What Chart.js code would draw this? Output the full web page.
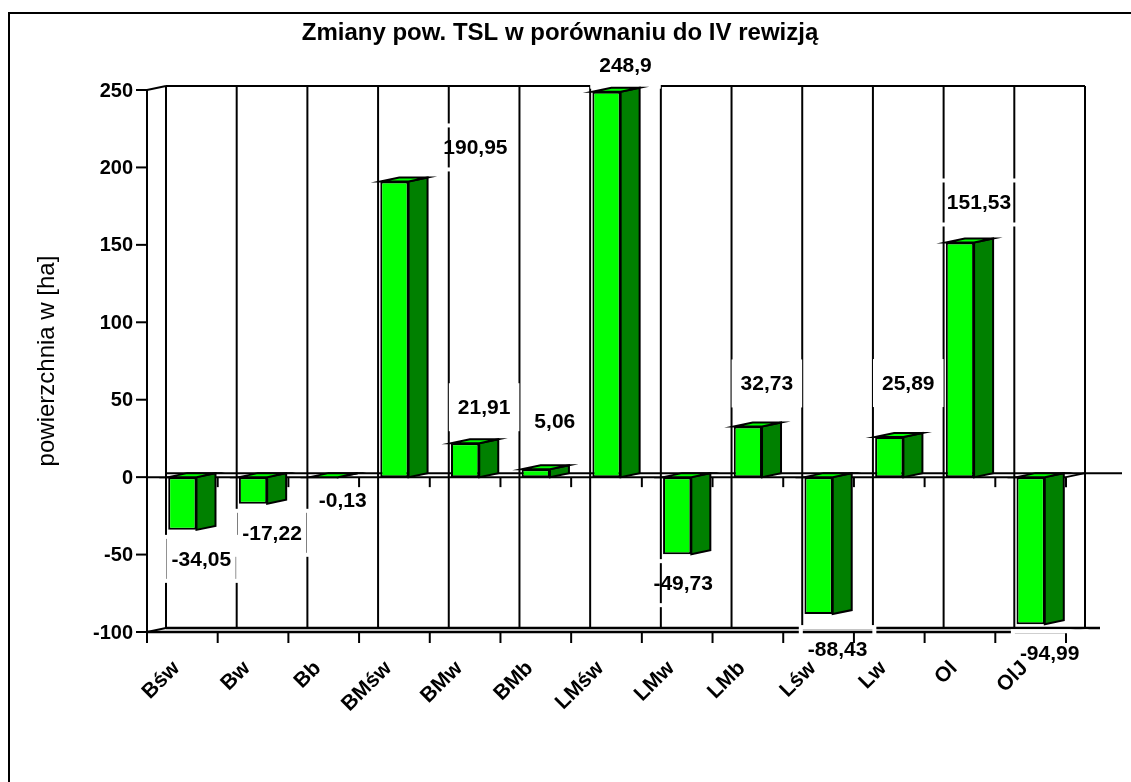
<!DOCTYPE html>
<html lang="pl">
<head>
<meta charset="UTF-8">
<title>Zmiany pow. TSL w porównaniu do IV rewizją</title>
<script src="https://cdn.jsdelivr.net/npm/chart.js@4.4.1/dist/chart.umd.min.js"></script>
<style>
  html, body { margin: 0; padding: 0; background: #fff; }
  .wrap { position: relative; width: 1131px; height: 782px; }
</style>
</head>
<body>
<div class="wrap"><canvas id="chart"></canvas></div>
<script>
// data
const categories = ['Bśw', 'Bw', 'Bb', 'BMśw', 'BMw', 'BMb', 'LMśw', 'LMw', 'LMb', 'Lśw', 'Lw', 'Ol', 'OlJ'];
const values = [-34.05, -17.22, -0.13, 190.95, 21.91, 5.06, 248.9, -49.73, 32.73, -88.43, 25.89, 151.53, -94.99];
const valueLabels = ['-34,05', '-17,22', '-0,13', '190,95', '21,91', '5,06', '248,9', '-49,73', '32,73', '-88,43', '25,89', '151,53', '-94,99'];
const yTicks = [250, 200, 150, 100, 50, 0, -50, -100];
const chartTitle = 'Zmiany pow. TSL w porównaniu do IV rewizją';
const yTitle = 'powierzchnia w [ha]';

const DX = 19, DY = -4;          // depth of the pseudo 3D box
const FONT = '"Liberation Sans", Arial, sans-serif';

function line(ctx, pts, width) {
  ctx.beginPath();
  ctx.moveTo(pts[0][0], pts[0][1]);
  for (let i = 1; i < pts.length; i++) ctx.lineTo(pts[i][0], pts[i][1]);
  ctx.lineWidth = width || 2;
  ctx.strokeStyle = '#000';
  ctx.stroke();
}

function poly(ctx, pts, fill) {
  ctx.beginPath();
  ctx.moveTo(pts[0][0], pts[0][1]);
  for (let i = 1; i < pts.length; i++) ctx.lineTo(pts[i][0], pts[i][1]);
  ctx.closePath();
  ctx.fillStyle = fill;
  ctx.fill();
  ctx.lineWidth = 2;
  ctx.strokeStyle = '#000';
  ctx.stroke();
}

function labelPos(chart, i, opts) {
  const x = chart.scales.x, y = chart.scales.y;
  const v = values[i];
  const s = opts.labelShift[i] || [0, 0];
  const px = x.getPixelForValue(i) + DX + s[0];
  const py = (v >= 0 ? y.getPixelForValue(v) - 36 : y.getPixelForValue(v) + 29) + s[1];
  return [px, py];
}

const box3d = {
  id: 'box3d',
  beforeDatasetsDraw(chart, args, opts) {
    const { ctx, chartArea: a } = chart;
    const xs = chart.scales.x, ys = chart.scales.y;
    const step = (a.right - a.left) / categories.length;
    const yTop = ys.getPixelForValue(yTicks[0]);
    const yBot = ys.getPixelForValue(yTicks[yTicks.length - 1]);
    const y0 = ys.getPixelForValue(0);
    ctx.save();

    // outer frame (only left and top reach into the picture)
    line(ctx, [[9, chart.height], [9, 13], [chart.width, 13]], 2);

    // title
    ctx.fillStyle = '#000';
    ctx.font = 'bold 24px ' + FONT;
    ctx.textAlign = 'center';
    ctx.textBaseline = 'middle';
    ctx.fillText(chartTitle, 560, 33);

    // y title
    ctx.save();
    ctx.translate(47, (yTop + yBot) / 2);
    ctx.rotate(-Math.PI / 2);
    ctx.font = '24px ' + FONT;
    ctx.fillText(yTitle, 0, 0);
    ctx.restore();

    // back wall: verticals at category boundaries
    for (let k = 0; k <= categories.length; k++) {
      const bx = a.left + k * step + DX;
      line(ctx, [[bx, yTop + DY], [bx, yBot + DY]], 2);
    }
    line(ctx, [[a.left + DX, yTop + DY], [a.right + DX, yTop + DY]], 2);
    line(ctx, [[a.left, yTop], [a.left + DX, yTop + DY]], 2);

    // floor at -100
    line(ctx, [[a.left + DX, yBot + DY], [a.right + DX + 15, yBot + DY]], 2.5);
    line(ctx, [[a.left, yBot], [a.left + DX, yBot + DY]], 2);
    line(ctx, [[a.right, yBot], [a.right + DX, yBot + DY]], 2);
    line(ctx, [[a.left, yBot], [a.right, yBot]], 2.5);
    for (let k = 0; k <= categories.length; k++) {
      const fx = a.left + k * step;
      line(ctx, [[fx, yBot], [fx, yBot + 11]], 2);
    }

    // white frames round the value labels cut the grid
    ctx.font = 'bold 21px ' + FONT;
    for (let i = 0; i < values.length; i++) {
      const [px, py] = labelPos(chart, i, opts);
      const w = ctx.measureText(valueLabels[i]).width;
      ctx.lineWidth = 4;
      ctx.strokeStyle = '#fff';
      ctx.strokeRect(px - w / 2 - 7, py - 22, w + 14, 44);
    }

    // y axis
    line(ctx, [[a.left, yTop], [a.left, yBot]], 2);
    ctx.font = 'bold 20px ' + FONT;
    ctx.textAlign = 'right';
    ctx.textBaseline = 'middle';
    ctx.fillStyle = '#000';
    yTicks.forEach((t) => {
      const ty = ys.getPixelForValue(t);
      line(ctx, [[a.left - 11, ty], [a.left, ty]], 2);
      ctx.fillText(String(t), a.left - 14, ty + 1);
    });

    // zero plane
    line(ctx, [[a.left + DX, y0 + DY], [1122, y0 + DY]], 2);
    line(ctx, [[a.left, y0], [a.right, y0]], 2);
    line(ctx, [[a.right, y0], [a.right + DX, y0 + DY]], 2);
    for (let k = 1; k <= categories.length; k++) {
      const fx = a.left + k * step;
      line(ctx, [[fx, y0], [fx, y0 + 10]], 2);
    }

    // category labels
    ctx.font = 'bold 21px ' + FONT;
    ctx.textAlign = 'right';
    ctx.textBaseline = 'middle';
    categories.forEach((c, i) => {
      ctx.save();
      ctx.translate(xs.getPixelForValue(i) - 6, yBot + 33);
      ctx.rotate(-Math.PI / 4);
      ctx.fillText(c, 0, 0);
      ctx.restore();
    });

    // side and top faces of the bars
    const meta = chart.getDatasetMeta(0);
    meta.data.forEach((bar) => {
      const p = bar.getProps(['x', 'y', 'base', 'width'], true);
      const xl = p.x - p.width / 2, xr = p.x + p.width / 2;
      const top = Math.min(p.y, p.base), bot = Math.max(p.y, p.base);
      poly(ctx, [[xr, top], [xr + DX, top + DY], [xr + DX, bot + DY], [xr, bot]], '#008000');
      poly(ctx, [[xl, top], [xr, top], [xr + DX, top + DY], [xl + DX, top + DY]], '#00ff00');
    });
    ctx.restore();
  },
  afterDatasetsDraw(chart, args, opts) {
    const { ctx } = chart;
    ctx.save();
    ctx.font = 'bold 21px ' + FONT;
    ctx.fillStyle = '#000';
    ctx.textAlign = 'center';
    ctx.textBaseline = 'middle';
    for (let i = 0; i < values.length; i++) {
      const [px, py] = labelPos(chart, i, opts);
      ctx.fillText(valueLabels[i], px, py + 1);
    }
    ctx.restore();
  }
};

new Chart(document.getElementById('chart'), {
  type: 'bar',
  data: {
    labels: categories,
    datasets: [{
      data: values,
      backgroundColor: '#00ff00',
      borderColor: '#000',
      borderWidth: 2,
      borderSkipped: false,
      categoryPercentage: 1,
      barPercentage: 0.4
    }]
  },
  options: {
    responsive: true,
    maintainAspectRatio: false,
    animation: false,
    layout: { padding: { left: 147, right: 65, top: 90, bottom: 150 } },
    plugins: {
      legend: { display: false },
      tooltip: { enabled: false },
      box3d: {
        // [dx, dy] nudges of value labels, px
        labelShift: { 2: [0, -6], 3: [62, 2], 5: [0, -12], 6: [0, 9], 7: [-13, 0], 8: [0, -7], 9: [0, 6], 10: [0, -18], 11: [0, -4] }
      }
    },
    scales: {
      x: { display: false },
      y: { display: false, min: -100, max: 250 }
    }
  },
  plugins: [box3d]
});
</script>
</body>
</html>
